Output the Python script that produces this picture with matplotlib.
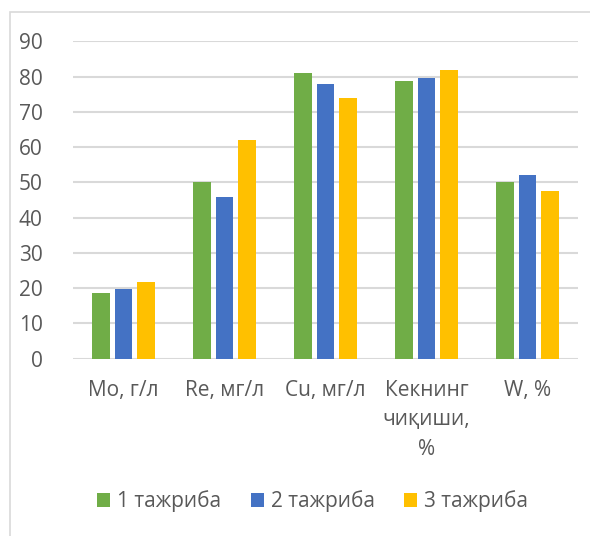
import matplotlib
matplotlib.use("Agg")
import matplotlib.pyplot as plt
import matplotlib.patches as mpatches
import numpy as np

plt.rcParams['font.family'] = ['Open Sans', 'DejaVu Sans']

# measured values for each experiment
categories = ['Mo, г/л', 'Re, мг/л', 'Cu, мг/л', 'Кекнинг\nчиқиши,\n%', 'W, %']
series_names = ['1 тажриба', '2 тажриба', '3 тажриба']
exp1 = [18.5, 50.2, 80.9, 78.7, 50.0]
exp2 = [19.8, 45.8, 78.0, 79.5, 52.1]
exp3 = [21.7, 61.9, 73.9, 81.9, 47.5]
colors = ['#70ad47', '#4472c4', '#ffc000']
yticks = [0, 10, 20, 30, 40, 50, 60, 70, 80, 90]

fig = plt.figure(figsize=(5.9, 5.36), dpi=100)
ax = fig.add_axes([73 / 590, 1 - 358.7 / 536, 505 / 590, 317.4 / 536])

# chart frame (only the left/top edges fall inside the image)
frame = mpatches.Rectangle((9.5 / 590, -0.1), 1.2, 1 - 11.7 / 536 + 0.1,
                           transform=fig.transFigure, fill=False,
                           edgecolor='#d9d9d9', linewidth=1.2)
fig.patches.append(frame)

x = np.arange(len(categories))
step = 0.223
width = 0.175
for i, (vals, name) in enumerate(zip([exp1, exp2, exp3], series_names)):
    ax.bar(x + (i - 1) * step, vals, width, color=colors[i], label=name,
           zorder=3)

ax.set_xlim(-0.5, len(categories) - 0.5)
ax.set_ylim(0, 90)
ax.set_yticks(yticks)
ax.set_xticks(x)
ax.set_xticklabels(categories, linespacing=1.55)
ax.tick_params(axis='both', length=0, colors='#595959', labelsize=15)
ax.tick_params(axis='y', pad=22)
ax.tick_params(axis='x', pad=15)
ax.yaxis.grid(True, color='#d9d9d9', linewidth=1.5, zorder=0)
for s in ax.spines.values():
    s.set_visible(False)

leg = fig.legend(loc='center', bbox_to_anchor=(312.5 / 590, 1 - 501.5 / 536),
                 ncol=3, frameon=False, fontsize=15, handlelength=0.625,
                 handleheight=0.625, handletextpad=0.34, columnspacing=1.4,
                 borderaxespad=0)
for t in leg.get_texts():
    t.set_color('#595959')

fig.savefig('out.png', dpi=100)
